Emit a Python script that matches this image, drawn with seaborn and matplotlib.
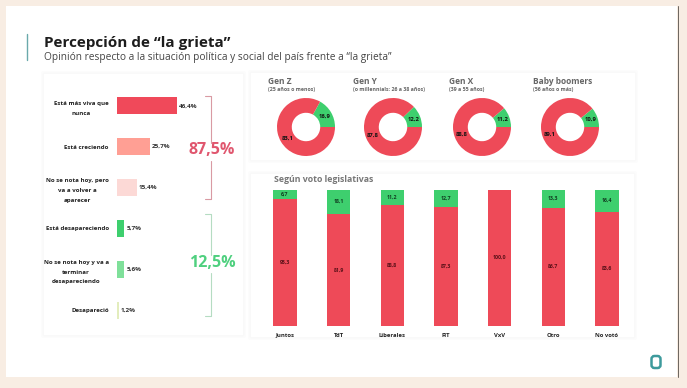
#!/usr/bin/env python3
import matplotlib
matplotlib.use('Agg')
import pandas as pd
import seaborn as sns
import matplotlib.pyplot as plt
from matplotlib.patches import FancyBboxPatch, Rectangle

## data
opinion = ['Está más viva que\nnunca', 'Está creciendo',
           'No se nota hoy, pero\nva a volver a\naparecer', 'Está desapareciendo',
           'No se nota hoy y va a\nterminar\ndesapareciendo', 'Desapareció']
opinion_val = [46.4, 25.7, 15.4, 5.7, 5.6, 1.2]
opinion_col = ['#f0495a', '#ff9f94', '#fcd9d6', '#3ecf6e', '#7fe09a', '#e3edbd']

gen_name = ['Gen Z', 'Gen Y', 'Gen X', 'Baby boomers']
gen_sub  = ['(25 años o menos)', '(o millennials: 26 a 38 años)', '(39 a 55 años)', '(56 años o más)']
gen_grow = [83.1, 87.8, 88.8, 89.1]
gen_fade = [16.9, 12.2, 11.2, 10.9]

vote_name = ['Juntos', 'TdT', 'Liberales', 'FIT', 'VxV', 'Otro', 'No votó']
vote_grow = [93.3, 81.9, 88.8, 87.3, 100.0, 86.7, 83.6]
vote_fade = [6.7, 18.1, 11.2, 12.7, 0.0, 13.3, 16.4]

RED, GREEN = '#ee4a58', '#3ecf6e'
W, H = 687, 388
FONT = 'Open Sans'

def comma(v):
  return '{0:.1f}'.format(v).replace('.', ',')

def px_axes(fig, x0, y0, x1, y1):
  ## axes from pixel box, origin on top left
  return fig.add_axes([x0/W, 1-y1/H, (x1-x0)/W, (y1-y0)/H])

sns.set_theme(style='white')
plt.rcParams['font.family'] = [FONT, 'DejaVu Sans']

fig = plt.figure(figsize=(W/100, H/100), dpi=100, facecolor='#f8ede3')

## canvas in pixels for slide, cards and text
bg = fig.add_axes([0, 0, 1, 1], zorder=0)
bg.set_xlim(0, W); bg.set_ylim(H, 0); bg.axis('off')
bg.add_patch(Rectangle((6, 6), 671, 371, fc='white', ec='none'))
bg.plot([677.5, 677.5], [6, 377], color='#6b645e', lw=0.7)

for x, y, w, h in [(44, 74, 199, 261), (251, 73, 384, 87), (251, 174, 383, 163)]:
  for grow, col in [(3, '#fcfcfc'), (1.5, '#f9f9f9')]:
    bg.add_patch(FancyBboxPatch((x-grow, y-grow), w+2*grow, h+2*grow,
                 boxstyle='round,pad=0,rounding_size=2', fc=col, ec='none'))
  bg.add_patch(Rectangle((x, y), w, h, fc='white', ec='none'))

bg.plot([27, 27], [34, 60], color='#6aa9ab', lw=1)
bg.text(44.5, 43, 'Percepción de “la grieta”', fontsize=11, fontweight='bold',
        color='#1d1d1d', va='center')
bg.text(44.5, 57.5, 'Opinión respecto a la situación política y social del país frente a “la grieta”',
        fontsize=7.3, color='#444444', va='center')

## brackets
for top, bot, gap0, gap1, col in [(96, 199, 143, 161, '#d99aa3'), (214, 316, 255, 273, '#b5dcc2')]:
  bg.plot([205, 210.5, 210.5], [top, top, gap0], color=col, lw=0.8)
  bg.plot([205, 210.5, 210.5], [bot, bot, gap1], color=col, lw=0.8)
bg.text(212, 150, '87,5%', fontsize=11.5, fontweight='bold', color='#e0566e', ha='center', va='center')
bg.text(212, 263, '12,5%', fontsize=11.5, fontweight='bold', color='#4fd07f', ha='center', va='center')

## opinion bars
df = pd.DataFrame({'op': opinion, 'val': opinion_val})
ax = px_axes(fig, 117, 85.5, 200, 330.5)
sns.barplot(data=df, x='val', y='op', hue='op', palette=opinion_col, legend=False,
            width=0.42, saturation=1, linewidth=0, ax=ax)
ax.set_xlim(0, 83/1.29)
ax.set_xlabel(''); ax.set_ylabel('')
ax.patch.set_alpha(0)
ax.set_xticks([])
ax.tick_params(axis='y', length=0, pad=6)
for lab in ax.get_yticklabels():
  lab.set(fontsize=4.4, fontweight='bold', color='#222222', multialignment='center', linespacing=2.2)
for cont, v in zip(ax.containers, opinion_val):
  ax.bar_label(cont, labels=[comma(v)+'%'], fontsize=4.6, fontweight='bold', color='#333333', padding=1.5)
sns.despine(ax=ax, left=True, bottom=True)

## generation donuts
gen_cx = [306, 393, 482, 570]
gen_tx = [268, 353, 449, 533]
for name, sub, grow, fade, cx, tx in zip(gen_name, gen_sub, gen_grow, gen_fade, gen_cx, gen_tx):
  bg.text(tx, 82, name, fontsize=6, fontweight='bold', color='#666666', va='center')
  bg.text(tx, 90, sub, fontsize=3.8, fontweight='bold', color='#666666', va='center')
  dax = px_axes(fig, cx-29, 127-29, cx+29, 127+29)
  _, _, pct = dax.pie([fade, grow], colors=[GREEN, RED], startangle=0, radius=1,
                      wedgeprops=dict(width=0.51, linewidth=0),
                      autopct=lambda p: comma(p), pctdistance=0.75)
  for t in pct:
    t.set(fontsize=4.2, fontweight='bold', color='#111111')
  dax.set_xlim(-1, 1); dax.set_ylim(-1, 1)

## vote bars
bg.text(274, 180, 'Según voto legislativas', fontsize=6.3, fontweight='bold', color='#777777', va='center')
vt = pd.DataFrame({'vote': vote_name, 'grow': vote_grow, 'fade': vote_fade})
vt['total'] = vt['grow'] + vt['fade']
bx = px_axes(fig, 258.2, 189.5, 633.8, 325.7)
sns.barplot(data=vt, x='vote', y='total', color=GREEN, width=0.43, saturation=1, linewidth=0, ax=bx)
sns.barplot(data=vt, x='vote', y='grow', color=RED, width=0.43, saturation=1, linewidth=0, ax=bx)
bx.set_ylim(0, 100)
bx.set_xlabel(''); bx.set_ylabel('')
bx.patch.set_alpha(0)
bx.set_yticks([])
bx.tick_params(axis='x', length=0, pad=5)
for lab in bx.get_xticklabels():
  lab.set(fontsize=4.2, fontweight='bold', color='#222222')
for i, (g, f) in enumerate(zip(vote_grow, vote_fade)):
  bx.text(i, g/2, comma(g), fontsize=3.8, fontweight='bold', color='#5a1018', ha='center', va='center')
  if f > 0:
    bx.text(i, g+f/2, comma(f), fontsize=3.8, fontweight='bold', color='#123f22', ha='center', va='center')
sns.despine(ax=bx, left=True, bottom=True)

## logo
bg.add_patch(FancyBboxPatch((651.5, 356), 9, 12, boxstyle='round,pad=0,rounding_size=3',
             fc='white', ec='#3d9a9c', lw=1.8))

fig.savefig('out.png', dpi=100, facecolor=fig.get_facecolor())
